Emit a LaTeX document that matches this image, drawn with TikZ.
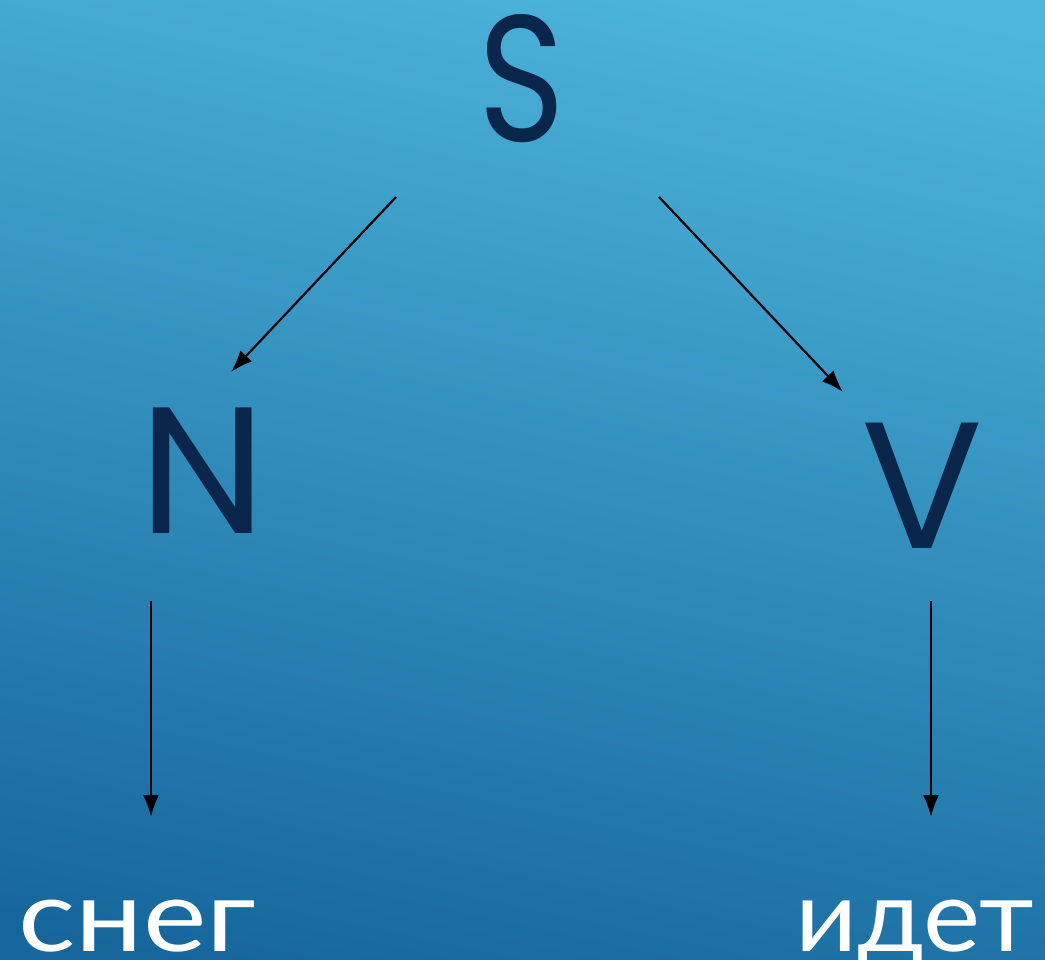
\documentclass[tikz,border=0pt]{standalone}
\usepackage{fontspec}
\setmainfont{Poppins}
\newfontfamily\cyrfont{Lato}
\usetikzlibrary{arrows.meta,calc}
\definecolor{navy}{RGB}{10,38,74}
\definecolor{bgtop}{RGB}{78,182,221}
\definecolor{bgbot}{RGB}{22,102,156}
\tikzset{
  sym/.style={text=navy,font=\fontsize{180}{180}\selectfont, inner sep=0pt},
  word/.style={text=white,font=\cyrfont\fontsize{100}{100}\selectfont, inner sep=0pt, anchor=base, xscale=1.2},
  arr/.style={draw=black, line width=2.2pt, -{Latex[length=22pt,width=16pt]}}
}
\begin{document}
\begin{tikzpicture}[x=1pt,y=-1pt]
\useasboundingbox (0,0) rectangle (1045,960);
\shade[top color=bgtop,bottom color=bgbot,shading angle=-12] (-60,-60) rectangle (1105,1020);
\node[sym, xscale=0.82] (S) at (522,79) {S};
\node[sym] (N) at (203,471) {N};
\node[sym] (V) at (922,486) {V};
\node[word] (w1) at (137,951) {снег};
\node[word, xscale=0.9] (w2) at (915,951) {идет};
\draw[arr] ($(S.center)+(-126,118)$) -- ($(N.center)+(28,-99)$);
\draw[arr] ($(S.center)+(137,118)$) -- ($(V.center)+(-79,-94)$);
\draw[arr] ($(N.center)+(-52,130)$) -- ($(w1.base)+(14,-134)$);
\draw[arr] ($(V.center)+(9,115)$) -- ($(w2.base)+(16,-134)$);
\end{tikzpicture}
\end{document}
